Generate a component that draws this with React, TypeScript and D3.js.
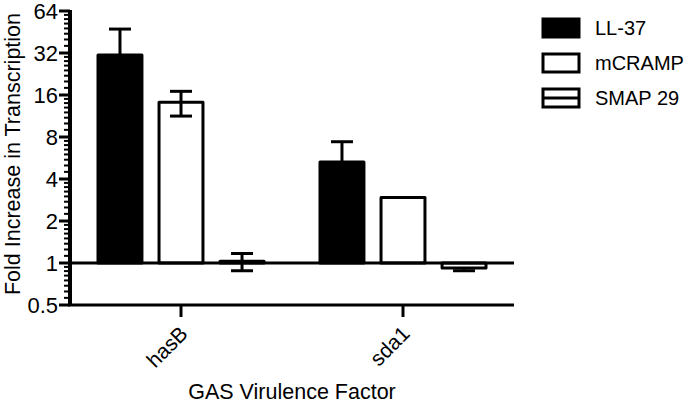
import React from "react"
import * as d3 from "d3"

// data
const categories = ["hasB", "sda1"]
const seriesNames = ["LL-37", "mCRAMP", "SMAP 29"]
const ll37 = [31, 5.3]
const ll37Lo = [20, 3.8]
const ll37Hi = [47.5, 7.4]
const mcramp = [14.2, 2.95]
const mcrampLo = [11.3, 2.95]
const mcrampHi = [17, 2.95]
const smap = [1.03, 0.92]
const smapLo = [0.88, 0.88]
const smapHi = [1.17, 0.92]
const yTicks = [0.5, 1, 2, 4, 8, 16, 32, 64]

const W = 693
const H = 405
const font = "'Liberation Sans', Arial, sans-serif"

export default function App() {
  const values = [ll37, mcramp, smap]
  const lows = [ll37Lo, mcrampLo, smapLo]
  const highs = [ll37Hi, mcrampHi, smapHi]

  const y = d3.scaleLog().base(2).domain([0.5, 64]).range([305, 11])
  const x0 = d3.scalePoint().domain(categories).range([70, 514]).padding(0.5)
  const x1 = d3.scaleBand().domain(seriesNames).range([-83, 83]).paddingInner(0.28)

  // minor ticks: linear subdivisions inside every octave
  const minor: number[] = []
  for (let i = 0; i < yTicks.length - 1; i++) {
    for (let k = 1; k < 8; k++) minor.push(yTicks[i] * (1 + k / 8))
  }

  const fills = ["#000", "#fff", "#fff"]
  const base = y(1)

  const whisker = (cx: number, from: number, to: number, key: string) =>
    Math.abs(to - from) > 1 ? (
      <g key={key} stroke="#000" strokeWidth={3}>
        <line x1={cx} x2={cx} y1={from} y2={to} />
        <line x1={cx - 11} x2={cx + 11} y1={to} y2={to} />
      </g>
    ) : null

  return (
    <svg width={W} height={H} style={{ position: "absolute", left: 0, top: 0, background: "#fff" }} fontFamily={font}>
      {/* bars */}
      {categories.map((c, ci) => (
        <g key={c} transform={`translate(${x0(c)},0)`}>
          {seriesNames.map((s, si) => {
            const v = values[si][ci]
            const bx = x1(s)!
            const bw = x1.bandwidth()
            const top = Math.min(y(v), base)
            const h = Math.abs(y(v) - base)
            const cx = bx + bw / 2
            return (
              <g key={s}>
                <rect x={bx} y={top} width={bw} height={h} fill={fills[si]} stroke="#000" strokeWidth={3} strokeLinejoin="round" />
                {whisker(cx, y(v), y(highs[si][ci]), "hi")}
                {whisker(cx, y(v), y(lows[si][ci]), "lo")}
              </g>
            )
          })}
        </g>
      ))}

      {/* baseline at 1 */}
      <line x1={70} x2={514} y1={base} y2={base} stroke="#000" strokeWidth={3} />

      {/* y axis */}
      <g stroke="#000">
        <line x1={70} x2={70} y1={y(64) - 1} y2={y(0.5) + 1} strokeWidth={4} />
        {minor.map((m, i) => (
          <line key={i} x1={64} x2={70} y1={y(m)} y2={y(m)} strokeWidth={2} />
        ))}
        {yTicks.map((t) => (
          <line key={t} x1={59} x2={70} y1={y(t)} y2={y(t)} strokeWidth={3} />
        ))}
      </g>
      {yTicks.map((t) => (
        <text key={t} x={58} y={y(t)} dy="0.36em" textAnchor="end" fontSize={22}>
          {t}
        </text>
      ))}

      {/* x axis */}
      <line x1={68} x2={514} y1={y(0.5)} y2={y(0.5)} stroke="#000" strokeWidth={3} />
      {categories.map((c) => (
        <g key={c}>
          <line x1={x0(c)} x2={x0(c)} y1={y(0.5)} y2={y(0.5) + 12} stroke="#000" strokeWidth={3} />
          <text
            transform={`translate(${x0(c)! + 8},${y(0.5) + 30}) rotate(-45)`}
            textAnchor="end"
            fontSize={21}
          >
            {c}
          </text>
        </g>
      ))}

      {/* axis titles */}
      <text x={292} y={399} textAnchor="middle" fontSize={21.5}>
        GAS Virulence Factor
      </text>
      <text transform="translate(20,154) rotate(-90)" textAnchor="middle" fontSize={21.5}>
        Fold Increase in Transcription
      </text>

      {/* legend */}
      {seriesNames.map((s, i) => (
        <g key={s} transform={`translate(543,${19 + i * 35})`}>
          <rect width={36} height={18} fill={fills[i]} stroke="#000" strokeWidth={3} />
          {i === 2 && <line x1={0} x2={36} y1={9} y2={9} stroke="#000" strokeWidth={3} />}
          <text x={52} y={9} dy="0.36em" fontSize={20}>
            {s}
          </text>
        </g>
      ))}
    </svg>
  )
}
